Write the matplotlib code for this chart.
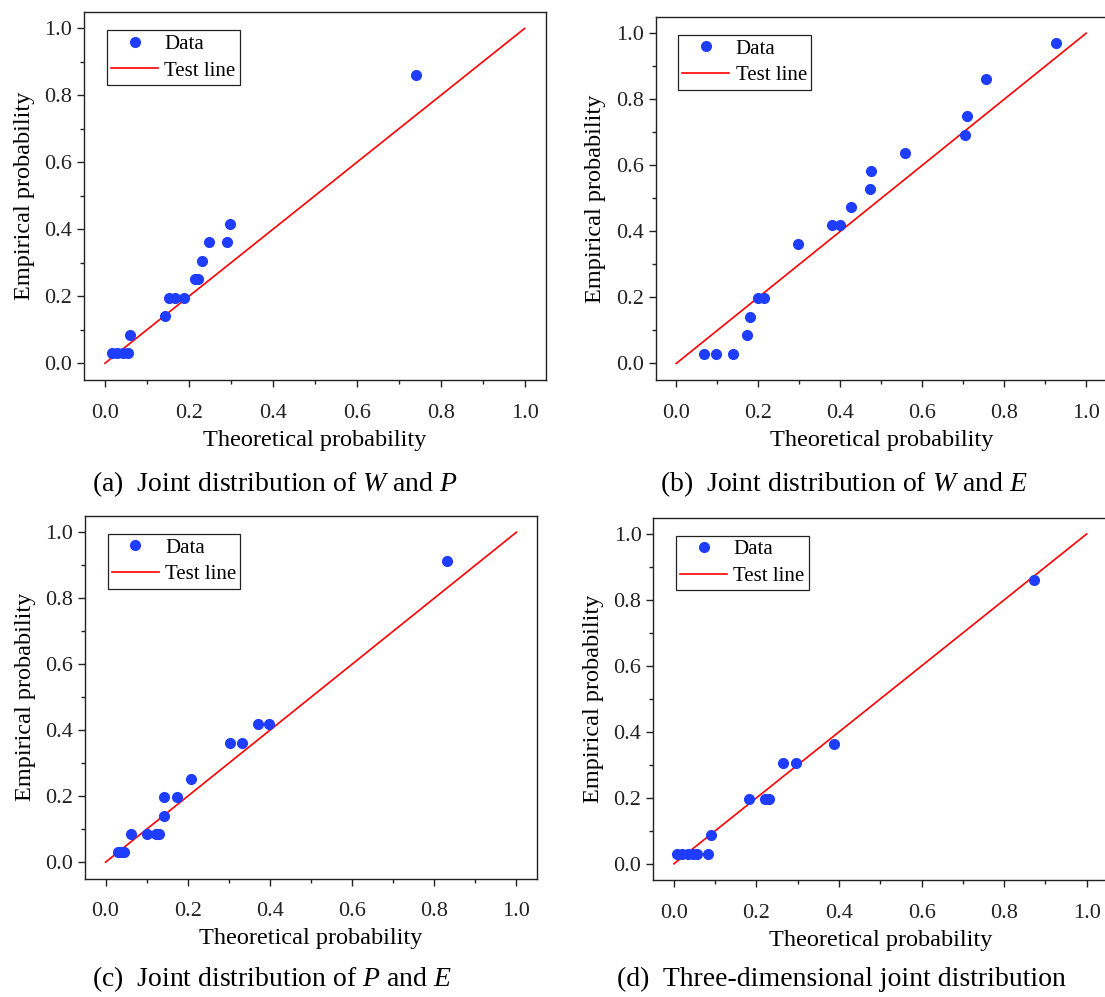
import numpy as np
import matplotlib
matplotlib.use("Agg")
import matplotlib.pyplot as plt
from matplotlib import ticker

# (a) W and P
theo_a = [0.016, 0.028, 0.042, 0.054, 0.059, 0.142, 0.152, 0.167, 0.188,
          0.215, 0.222, 0.231, 0.247, 0.290, 0.298, 0.740]
emp_a = [0.030, 0.030, 0.030, 0.030, 0.085, 0.141, 0.196, 0.196, 0.196,
         0.251, 0.251, 0.306, 0.361, 0.361, 0.417, 0.861]
# (b) W and E
theo_b = [0.068, 0.096, 0.138, 0.173, 0.179, 0.199, 0.215, 0.298, 0.379,
          0.400, 0.426, 0.473, 0.475, 0.559, 0.704, 0.710, 0.756, 0.927]
emp_b = [0.030, 0.030, 0.030, 0.086, 0.141, 0.197, 0.197, 0.362, 0.418,
         0.418, 0.473, 0.528, 0.583, 0.638, 0.693, 0.749, 0.860, 0.970]
# (c) P and E
theo_c = [0.030, 0.038, 0.045, 0.062, 0.102, 0.124, 0.129, 0.142, 0.143,
          0.175, 0.207, 0.302, 0.333, 0.372, 0.398, 0.832]
emp_c = [0.030, 0.030, 0.030, 0.086, 0.086, 0.086, 0.086, 0.141, 0.197,
         0.197, 0.252, 0.362, 0.362, 0.418, 0.418, 0.914]
# (d) three-dimensional
theo_d = [0.008, 0.020, 0.035, 0.045, 0.056, 0.083, 0.091, 0.182, 0.220,
          0.231, 0.265, 0.295, 0.387, 0.872]
emp_d = [0.030, 0.030, 0.030, 0.030, 0.030, 0.030, 0.086, 0.197, 0.197,
         0.197, 0.307, 0.307, 0.362, 0.860]

captions = [r"(a)  Joint distribution of $W$ and $P$",
            r"(b)  Joint distribution of $W$ and $E$",
            r"(c)  Joint distribution of $P$ and $E$",
            "(d)  Three-dimensional joint distribution"]

plt.rcParams['font.family'] = ['Liberation Serif', 'DejaVu Serif']
plt.rcParams['mathtext.fontset'] = 'custom'
plt.rcParams['mathtext.rm'] = 'Liberation Serif'
plt.rcParams['mathtext.it'] = 'Liberation Serif:italic'

W, H = 1105.0, 997.0
# axes boxes in pixels: left, top, right, bottom
boxes = [(84, 11.7, 545.6, 380),
         (655.7, 16.7, 1106.7, 380),
         (85, 515.7, 537, 878.7),
         (653.3, 517.5, 1107.3, 880.3)]
cap_pos = [(92, 484), (660, 484), (92, 979), (617, 979)]

fig = plt.figure(figsize=(W / 100, H / 100), dpi=100)

data = [(theo_a, emp_a), (theo_b, emp_b), (theo_c, emp_c), (theo_d, emp_d)]
for i, (x, y) in enumerate(data):
    l, t, r, b = boxes[i]
    ax = fig.add_axes([l / W, 1 - b / H, (r - l) / W, (b - t) / H])
    ax.plot(x, y, 'o', color='#1f3dff', ms=7, label='Data', zorder=3)
    ax.plot([0, 1], [0, 1], '-', color='#ff0000', lw=1.2, label='Test line')
    ax.set_xlim(-0.05, 1.05)
    ax.set_ylim(-0.05, 1.05)
    ax.xaxis.set_major_locator(ticker.MultipleLocator(0.2))
    ax.yaxis.set_major_locator(ticker.MultipleLocator(0.2))
    ax.xaxis.set_minor_locator(ticker.MultipleLocator(0.1))
    ax.yaxis.set_minor_locator(ticker.MultipleLocator(0.1))
    ax.xaxis.set_major_formatter(ticker.FormatStrFormatter('%.1f'))
    ax.yaxis.set_major_formatter(ticker.FormatStrFormatter('%.1f'))
    ax.tick_params(which='major', direction='out', length=5, width=1,
                   labelsize=16, colors='#222222')
    ax.tick_params(which='minor', direction='out', length=3, width=1,
                   colors='#222222')
    ax.tick_params(axis='x', which='major', pad=12)
    for s in ax.spines.values():
        s.set_linewidth(1.0)
        s.set_color('#222222')
    ax.set_xlabel("Theoretical probability", fontsize=17.5, labelpad=5)
    ax.set_ylabel("Empirical probability", fontsize=17.5, labelpad=7)
    leg = ax.legend(loc='upper left', bbox_to_anchor=(0.05, 0.95),
                    fontsize=15, fancybox=False, framealpha=1,
                    edgecolor='#222222', handlelength=2.25, handletextpad=0.3,
                    borderpad=0.2, labelspacing=0.35, borderaxespad=0)
    leg.get_frame().set_linewidth(0.9)
    fig.text(cap_pos[i][0] / W, 1 - cap_pos[i][1] / H, captions[i],
             fontsize=20, ha='left', va='center')

plt.savefig("out.png", dpi=100)
